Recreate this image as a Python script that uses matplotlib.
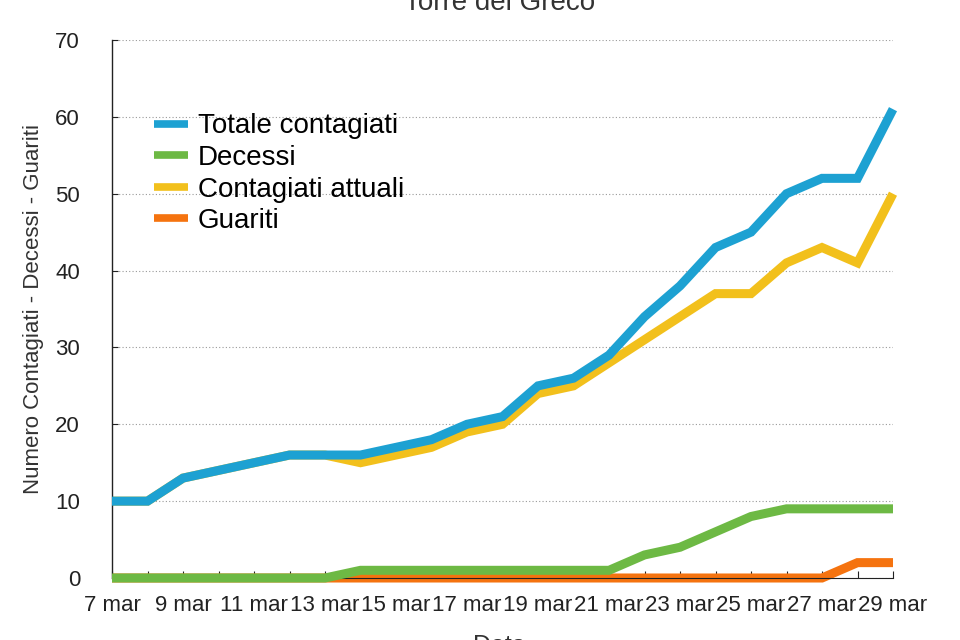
import matplotlib
matplotlib.use("Agg")
import matplotlib.pyplot as plt

plt.rcParams["font.family"] = ["Liberation Sans", "DejaVu Sans"]

days = ["7 mar", "8 mar", "9 mar", "10 mar", "11 mar", "12 mar", "13 mar",
        "14 mar", "15 mar", "16 mar", "17 mar", "18 mar", "19 mar", "20 mar",
        "21 mar", "22 mar", "23 mar", "24 mar", "25 mar", "26 mar", "27 mar",
        "28 mar", "29 mar"]
totale = [10, 10, 13, 14, 15, 16, 16, 16, 17, 18, 20, 21, 25, 26, 29, 34,
          38, 43, 45, 50, 52, 52, 61]
decessi = [0, 0, 0, 0, 0, 0, 0, 1, 1, 1, 1, 1, 1, 1, 1, 3, 4, 6, 8, 9, 9, 9, 9]
attuali = [10, 10, 13, 14, 15, 16, 16, 15, 16, 17, 19, 20, 24, 25, 28, 31,
           34, 37, 37, 41, 43, 41, 50]
guariti = [0, 0, 0, 0, 0, 0, 0, 0, 0, 0, 0, 0, 0, 0, 0, 0, 0, 0, 0, 0, 0, 2, 2]

series = [
    ("Totale contagiati", totale, "#1DA1D2", 4),
    ("Decessi", decessi, "#6DB944", 3),
    ("Contagiati attuali", attuali, "#F2C01C", 2),
    ("Guariti", guariti, "#F5730F", 1),
]

fig = plt.figure(figsize=(9.6, 6.4), dpi=100)
ax = fig.add_axes([112 / 960, 1 - 578 / 640, (893 - 112) / 960, (578 - 40) / 640])

x = list(range(len(days)))
for name, vals, color, z in series:
    ax.plot(x, vals, color=color, lw=6.5, label=name, zorder=z,
            clip_on=False, solid_joinstyle="miter", solid_capstyle="butt")

ax.set_xlim(0, len(days) - 1)
ax.set_ylim(0, 70)
ax.set_yticks(range(0, 71, 10))
ax.set_xticks(x)
ax.set_xticklabels([d if i % 2 == 0 else "" for i, d in enumerate(days)])
ax.tick_params(axis="x", direction="in", length=5, width=0.8, pad=12,
               labelsize=16, colors="#222222")
ax.tick_params(axis="y", direction="in", length=4, width=0.8, pad=23,
               labelsize=16, colors="#222222")
ax.grid(axis="y", linestyle=(0, (1, 2)), color="#999999", lw=0.8)
ax.set_axisbelow(True)
for s in ["top", "right"]:
    ax.spines[s].set_visible(False)
ax.spines["left"].set_color("#222222")
ax.spines["bottom"].set_color("#222222")
ax.spines["left"].set_linewidth(1.0)
ax.spines["bottom"].set_linewidth(0.8)

ax.set_ylabel("Numero Contagiati - Decessi - Guariti", fontsize=16,
              color="#333333")
ax.yaxis.set_label_coords(-0.087, 0.5)
fig.text(0.52, 1 - 10 / 640, "Torre del Greco", ha="center", va="baseline",
         fontsize=20, color="#333333")
fig.text(0.52, 1 - 634 / 640, "Data", ha="center", va="top", fontsize=18,
         color="#333333")

leg = ax.legend(loc="upper left", bbox_to_anchor=(0.022, 0.91), frameon=False,
                fontsize=20, handlelength=1.2, handletextpad=0.36,
                labelspacing=0.2)
for line in leg.get_lines():
    line.set_linewidth(5.5)

fig.savefig("out.png", dpi=100)
